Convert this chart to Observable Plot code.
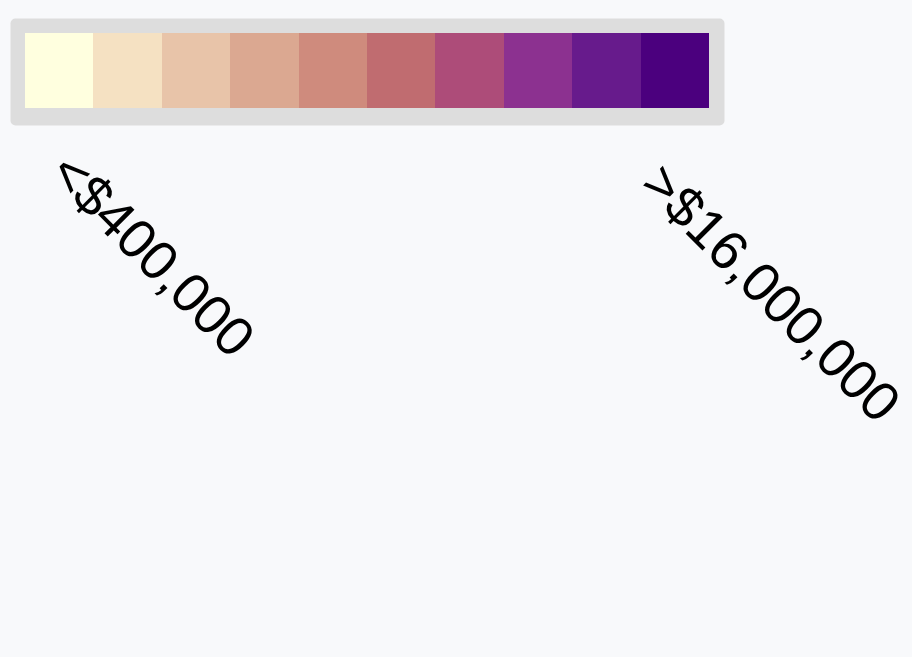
<!DOCTYPE html>
<html>
<head>
<meta charset="utf-8">
<script src="https://cdn.jsdelivr.net/npm/d3@7"></script>
<script src="https://cdn.jsdelivr.net/npm/@observablehq/plot@0.6"></script>
<style>
  html, body { margin: 0; padding: 0; background: #f8f9fb; }
  svg { display: block; }
</style>
</head>
<body>
<div id="chart"></div>
<script>
const bins = ["b1","b2","b3","b4","b5","b6","b7","b8","b9","b10"];
const colors = ["#ffffdf","#f5e1c2","#e8c4a9","#dba891","#cf8b7d","#c06c70","#ad4c79","#8c3190","#671b8c","#4b007e"];
const lowLabel = "<$400,000";
const highLabel = ">$16,000,000";

const swatches = bins.map((b, i) => ({bin: b, color: colors[i], row: "legend"}));

const textStyle = {frameAnchor: "bottom", rotate: 45, textAnchor: "start", lineAnchor: "bottom", fontSize: 55, fill: "black"};

const chart = Plot.plot({
  width: 912,
  height: 657,
  marginLeft: 10,
  marginRight: 188,
  marginTop: 18,
  marginBottom: 532,
  style: {background: "#f8f9fb", fontFamily: "'Liberation Sans', Arial, sans-serif", overflow: "visible"},
  x: {type: "band", domain: bins, range: [25, 709], padding: 0, round: false, axis: null},
  y: {type: "band", domain: ["legend"], range: [33, 108], padding: 0, round: false, axis: null},
  color: {type: "identity"},
  marks: [
    Plot.frame({fill: "#dddddd", stroke: "none", rx: 5}),
    Plot.cell(swatches, {x: "bin", y: "row", fill: "color", inset: 0, shapeRendering: "crispEdges"}),
    Plot.text([{bin: bins[0], text: lowLabel}], {...textStyle, x: "bin", text: "text", dx: -13, dy: 50}),
    Plot.text([{bin: bins[bins.length - 1], text: highLabel}], {...textStyle, x: "bin", text: "text", dx: -37, dy: 61})
  ]
});
document.getElementById("chart").appendChild(chart);
</script>
</body>
</html>
